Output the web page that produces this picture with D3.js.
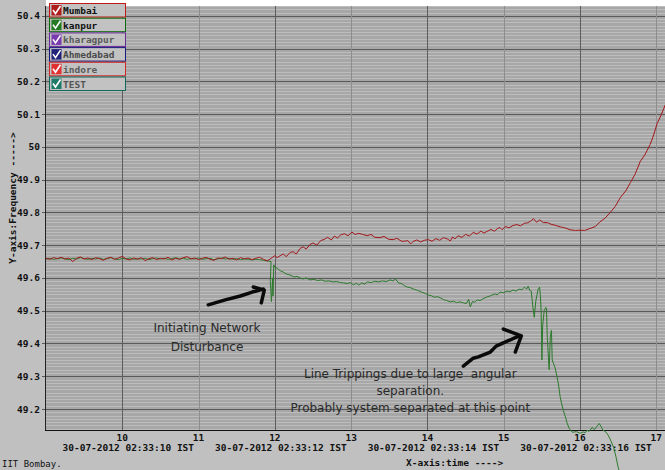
<!DOCTYPE html>
<html><head><meta charset="utf-8">
<script src="https://cdn.jsdelivr.net/npm/d3@7"></script>
<style>html,body{margin:0;padding:0;background:#c0c0c0;}svg{display:block;}text{white-space:pre;}</style>
</head><body>
<svg id="c" width="665" height="470"></svg>
<script>
// ---------- DATA ----------
const xTicks = [10, 11, 12, 13, 14, 15, 16, 17];
const xDateLabels = {10: "30-07-2012 02:33:10 IST", 12: "30-07-2012 02:33:12 IST", 14: "30-07-2012 02:33:14 IST", 16: "30-07-2012 02:33:16 IST"};
const yTicks = [49.2, 49.3, 49.4, 49.5, 49.6, 49.7, 49.8, 49.9, 50.0, 50.1, 50.2, 50.3, 50.4];
const yTickLabels = ["49.2", "49.3", "49.4", "49.5", "49.6", "49.7", "49.8", "49.9", "50", "50.1", "50.2", "50.3", "50.4"];

const legendNames = ["Mumbai", "kanpur", "kharagpur", "Ahmedabad", "indore", "TEST"];

const flatTimes = [9.00,9.05,9.10,9.15,9.20,9.25,9.30,9.35,9.40,9.45,9.50,9.55,9.60,9.65,9.70,9.75,9.80,9.85,9.90,9.95,
  10.00,10.05,10.10,10.15,10.20,10.25,10.30,10.35,10.40,10.45,10.50,10.55,10.60,10.65,10.70,10.75,10.80,10.85,10.90,10.95,
  11.00,11.05,11.10,11.15,11.20,11.25,11.30,11.35,11.40,11.45,11.50,11.55,11.60,11.65,11.70,11.75,11.80,11.85,11.90,11.95];

const mumbaiFlat = [49.660,49.657,49.662,49.659,49.663,49.658,49.661,49.650,49.660,49.664,
  49.658,49.661,49.656,49.662,49.659,49.654,49.660,49.663,49.657,49.661,
  49.666,49.658,49.655,49.661,49.657,49.662,49.653,49.659,49.662,49.656,
  49.660,49.658,49.663,49.655,49.660,49.657,49.662,49.665,49.658,49.661,
  49.656,49.660,49.663,49.657,49.654,49.661,49.659,49.664,49.657,49.660,
  49.655,49.662,49.658,49.661,49.656,49.660,49.663,49.657,49.652,49.660];
const mumbaiTimes2 = [12.00,12.03,12.07,12.11,12.15,12.20,12.24,12.28,12.33,12.37,12.41,12.46,12.50,12.55,12.60,12.65,12.69,12.74,12.78,12.82,
  12.86,12.91,12.96,13.01,13.05,13.10,13.15,13.21,13.26,13.31,13.38,13.43,13.49,13.55,13.60,13.66,13.70,13.74,13.78,13.81,
  13.86,13.91,13.96,14.01,14.06,14.11,14.16,14.21,14.26,14.30,14.33,14.36,14.40,14.45,14.50,14.55,14.60,14.65,14.70,14.74,
  14.78,14.83,14.88,14.92,14.95,14.98,15.02,15.07,15.12,15.17,15.22,15.27,15.31,15.35,15.39,15.43,15.47,15.52,15.57,15.62,
  15.67,15.74,15.80,15.87,15.94,16.00,16.06,16.13,16.20,16.26,16.33,16.40,16.46,16.53,16.60,16.66,16.72,16.79,16.85,16.92,
  16.96,17.01,17.06,17.12];
const mumbaiValues2 = [49.668,49.662,49.668,49.673,49.665,49.678,49.680,49.673,49.690,49.695,49.688,49.702,49.707,49.700,49.714,49.718,49.724,49.716,49.728,49.722,
  49.731,49.735,49.729,49.740,49.733,49.736,49.733,49.729,49.733,49.724,49.723,49.727,49.718,49.717,49.721,49.712,49.712,49.714,49.704,49.711,
  49.716,49.710,49.715,49.717,49.712,49.720,49.715,49.723,49.719,49.713,49.725,49.719,49.729,49.724,49.733,49.728,49.739,49.734,49.743,49.737,
  49.742,49.748,49.743,49.751,49.754,49.747,49.757,49.753,49.760,49.763,49.759,49.767,49.768,49.773,49.781,49.770,49.777,49.769,49.769,49.764,
  49.761,49.756,49.753,49.747,49.745,49.746,49.745,49.751,49.757,49.771,49.783,49.801,49.818,49.846,49.866,49.891,49.916,49.956,49.976,50.008,
  50.033,50.071,50.096,50.130];

const kanpurFlat = [49.658,49.660,49.657,49.659,49.661,49.658,49.656,49.660,49.658,49.662,
  49.659,49.657,49.660,49.658,49.661,49.657,49.659,49.662,49.658,49.656,
  49.660,49.658,49.661,49.657,49.659,49.658,49.660,49.656,49.659,49.661,
  49.658,49.660,49.657,49.659,49.662,49.658,49.660,49.657,49.659,49.658,
  49.661,49.657,49.659,49.660,49.656,49.658,49.661,49.658,49.660,49.657,
  49.659,49.656,49.658,49.657,49.655,49.657,49.656,49.654,49.652,49.650];
const kanpurTimes2 = [11.94,11.955,11.97,11.975,11.985,12.00,12.03,12.07,12.11,12.15,12.20,12.25,12.29,12.33,12.37,12.41,12.46,12.51,12.56,12.61,
  12.66,12.71,12.76,12.81,12.86,12.90,12.95,12.99,13.03,13.07,13.10,13.14,13.18,13.21,13.26,13.31,13.36,13.41,13.46,13.51,
  13.55,13.58,13.62,13.66,13.70,13.74,13.78,13.82,13.87,13.92,13.97,14.01,14.05,14.09,14.13,14.17,14.21,14.25,14.30,14.34,
  14.38,14.43,14.47,14.51,14.54,14.56,14.59,14.62,14.65,14.69,14.73,14.78,14.83,14.88,14.92,14.95,15.00,15.04,15.08,15.12,
  15.16,15.20,15.24,15.27,15.30,15.32,15.34,15.36,15.38,15.40,15.42,15.45,15.47,15.48,15.49,15.50,15.51,15.53,15.55,15.56,
  15.57,15.595,15.61,15.625,15.635,15.65,15.67,15.70,15.72,15.74,15.76,15.78,15.81,15.83,15.86,15.90,15.95,16.00,16.04,16.07,
  16.09,16.12,16.16,16.18,16.20,16.23,16.25,16.28,16.30,16.33,16.37,16.40,16.44,16.47,16.50,16.53];
const kanpurValues2 = [49.590,49.528,49.600,49.545,49.640,49.632,49.630,49.622,49.618,49.612,49.609,49.603,49.605,49.600,49.597,49.600,49.594,49.596,49.592,49.594,
  49.590,49.591,49.588,49.589,49.586,49.585,49.583,49.586,49.579,49.584,49.578,49.585,49.581,49.588,49.586,49.590,49.588,49.591,49.589,49.594,
  49.591,49.597,49.585,49.583,49.576,49.572,49.570,49.566,49.562,49.557,49.553,49.548,49.546,49.541,49.543,49.539,49.534,49.531,49.527,49.529,
  49.525,49.527,49.524,49.522,49.535,49.512,49.528,49.526,49.533,49.531,49.537,49.542,49.546,49.551,49.549,49.557,49.555,49.560,49.558,49.563,
  49.560,49.566,49.564,49.572,49.566,49.575,49.562,49.560,49.515,49.480,49.530,49.565,49.572,49.545,49.500,49.350,49.455,49.500,49.510,49.508,
  49.420,49.320,49.420,49.440,49.350,49.340,49.328,49.297,49.270,49.236,49.215,49.196,49.175,49.157,49.140,49.129,49.131,49.126,49.130,49.128,
  49.135,49.132,49.144,49.138,49.140,49.150,49.156,49.145,49.135,49.132,49.120,49.105,49.083,49.055,49.022,49.000];

// annotations in data units (time, frequency)
const noteLeft = [{t: 11.11, v: 49.435, text: "Initiating Network"}, {t: 11.11, v: 49.377, text: "Disturbance"}];
const noteRight = [{t: 13.775, v: 49.295, text: "Line Trippings due to large  angular"}, {t: 13.775, v: 49.243, text: "separation."}, {t: 13.775, v: 49.191, text: "Probably system separated at this point"}];
const arrow1Shaft = [[11.127,49.518],[11.35,49.533],[11.547,49.545],[11.704,49.557],[11.848,49.566]];
const arrow1Head = [[11.717,49.5725],[11.861,49.563],[11.822,49.524]];
const arrow2Shaft = [[14.47,49.331],[14.60,49.355],[14.666,49.359],[14.824,49.374],[14.90,49.392],[14.994,49.402],[15.204,49.423]];
const arrow2Head = [[14.994,49.444],[15.23,49.423],[15.151,49.374]];

// ---------- DRAW ----------
const svg = d3.select("#c");
const W = 665, H = 470;
const x = d3.scaleLinear().domain([9, 17.12]).range([46, 665.5]);
const y = d3.scaleLinear().domain([49.136, 50.43]).range([430, 6]);

svg.append("rect").attr("width", W).attr("height", H).attr("fill", "#c0c0c0");
svg.append("rect").attr("x", 46).attr("y", 0).attr("width", W - 46).attr("height", 6).attr("fill", "#ffffff");
svg.append("rect").attr("x", 46).attr("y", 6).attr("width", W - 46).attr("height", 424).attr("fill", "#a7a7a7");

// minor horizontal grid
const minor = d3.range(4914, 5044, 1).map(d => d / 100);
svg.append("g").selectAll("line").data(minor).join("line")
  .attr("x1", 46).attr("x2", W)
  .attr("y1", d => Math.round(y(d)) + 0.5).attr("y2", d => Math.round(y(d)) + 0.5)
  .attr("stroke", "#bdbdbd").attr("stroke-width", 1);

// major horizontal grid
svg.append("g").selectAll("line").data(yTicks).join("line")
  .attr("x1", 42).attr("x2", W)
  .attr("y1", d => Math.round(y(d)) + 0.5).attr("y2", d => Math.round(y(d)) + 0.5)
  .attr("stroke", "#5a5a5a").attr("stroke-width", 1);

// vertical grid
svg.append("g").selectAll("line").data(xTicks).join("line")
  .attr("x1", d => Math.round(x(d)) + 0.5).attr("x2", d => Math.round(x(d)) + 0.5)
  .attr("y1", 6).attr("y2", 430)
  .attr("stroke", d => d % 2 === 0 ? "#5e5e5e" : "#8e8e8e").attr("stroke-width", 1);

// axes lines
svg.append("line").attr("x1", 45.5).attr("x2", 45.5).attr("y1", 6).attr("y2", 431).attr("stroke", "#222");
svg.append("line").attr("x1", 45).attr("x2", W).attr("y1", 430.5).attr("y2", 430.5).attr("stroke", "#111");

const mono = "'DejaVu Sans Mono', monospace";
// y tick labels
svg.append("g").selectAll("text").data(yTicks).join("text")
  .attr("x", 40).attr("y", d => y(d) + 3.5)
  .attr("text-anchor", "end").attr("font-family", mono).attr("font-weight", "bold")
  .attr("font-size", 9.5).attr("fill", "#111")
  .text((d, i) => yTickLabels[i]);

// x tick labels
svg.append("g").selectAll("text").data(xTicks).join("text")
  .attr("x", d => x(d)).attr("y", 441)
  .attr("text-anchor", "middle").attr("font-family", mono).attr("font-weight", "bold")
  .attr("font-size", 9.5).attr("fill", "#111").text(d => d);
svg.append("g").selectAll("text").data(Object.keys(xDateLabels).map(Number)).join("text")
  .attr("x", d => x(d) + 6).attr("y", 451)
  .attr("text-anchor", "middle").attr("font-family", mono).attr("font-weight", "bold")
  .attr("font-size", 9.5).attr("fill", "#111").text(d => xDateLabels[d]);

svg.append("text").attr("x", 406).attr("y", 466).attr("font-family", mono).attr("font-weight", "bold")
  .attr("font-size", 9.5).attr("fill", "#111").text("X-axis:time ---->");
svg.append("text").attr("x", 2).attr("y", 467).attr("font-family", mono)
  .attr("font-size", 9).attr("fill", "#111").text("IIT Bombay.");
svg.append("text").attr("transform", "translate(16,198) rotate(-90)")
  .attr("text-anchor", "middle").attr("font-family", mono).attr("font-weight", "bold")
  .attr("font-size", 9.5).attr("fill", "#111").text("Y-axis:Frequency ----->");

// annotations text
const sans = "'DejaVu Sans', sans-serif";
svg.append("g").selectAll("text").data(noteLeft.concat(noteRight)).join("text")
  .attr("x", d => x(d.t)).attr("y", d => y(d.v))
  .attr("text-anchor", "middle").attr("font-family", sans).attr("font-size", 12)
  .attr("xml:space", "preserve")
  .attr("fill", "#2a2a2a").text(d => d.text);

// series lines
const lineGen = d3.line().x(d => x(d[0])).y(d => y(d[1]));
const mumbaiData = flatTimes.map((t, i) => [t, mumbaiFlat[i]]).concat(mumbaiTimes2.map((t, i) => [t, mumbaiValues2[i]]));
const kanpurData = flatTimes.map((t, i) => [t, kanpurFlat[i]]).concat(kanpurTimes2.map((t, i) => [t, kanpurValues2[i]]));

svg.append("path").datum(kanpurData).attr("d", lineGen)
  .attr("fill", "none").attr("stroke", "#2c7a2c").attr("stroke-width", 1);
svg.append("path").datum(mumbaiData).attr("d", lineGen)
  .attr("fill", "none").attr("stroke", "#a3161a").attr("stroke-width", 1);

// arrows
[arrow1Shaft, arrow1Head, arrow2Shaft, arrow2Head].forEach(pts => {
  svg.append("path").datum(pts).attr("d", lineGen)
    .attr("fill", "none").attr("stroke", "#0a0a0a").attr("stroke-width", 3.5)
    .attr("stroke-linecap", "round").attr("stroke-linejoin", "round");
});

// legend
const legBorder = ["#c01818", "#0b6b0b", "#6a2a9a", "#1a1a7a", "#d02828", "#0f6a5a"];
const legIcon = ["#b01c1c", "#237a23", "#7a3ab0", "#22227a", "#e03030", "#1f7a6a"];
const legText = ["#111", "#111", "#5a5a5a", "#4a4a4a", "#5a5a5a", "#555"];
const leg = svg.append("g").selectAll("g").data(legendNames).join("g")
  .attr("transform", (d, i) => `translate(49.5,${3.5 + i * 14.7})`);
leg.append("rect").attr("width", 76).attr("height", 13.5)
  .attr("fill", "#c2c2c2").attr("stroke", (d, i) => legBorder[i]).attr("stroke-width", 1);
leg.append("rect").attr("x", 2).attr("y", 1.5).attr("width", 10).attr("height", 10.5)
  .attr("fill", (d, i) => legIcon[i]);
leg.append("path").attr("d", "M3.5,6.5 L6,10 L11,2.5")
  .attr("fill", "none").attr("stroke", "#ffffff").attr("stroke-width", 1.6);
leg.append("text").attr("x", 13.5).attr("y", 10.5)
  .attr("font-family", mono).attr("font-weight", "bold").attr("font-size", 9.5)
  .attr("fill", (d, i) => legText[i]).text(d => d);
</script>
</body></html>
